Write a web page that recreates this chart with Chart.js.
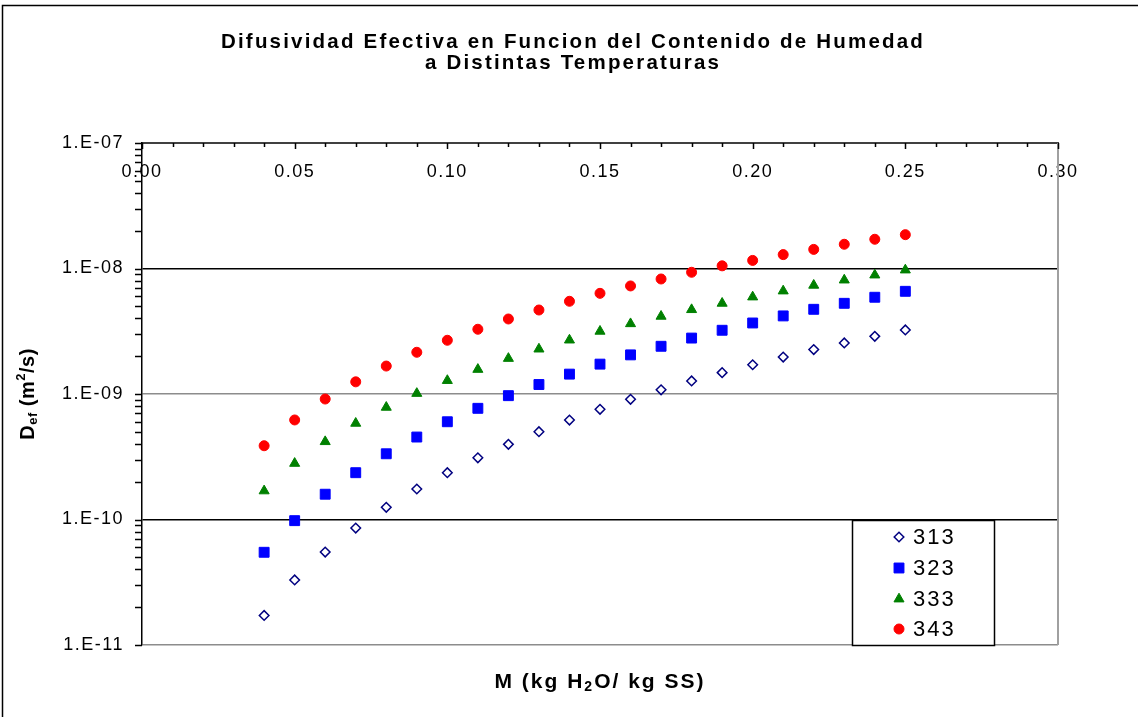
<!DOCTYPE html>
<html>
<head>
<meta charset="utf-8">
<script src="https://cdn.jsdelivr.net/npm/chart.js@4.4.0/dist/chart.umd.min.js"></script>
<style>
  body { margin: 0; background: #fff; }
  canvas { display: block; }
</style>
</head>
<body>
<canvas id="chart" width="1138" height="717"></canvas>
<script>
// Moisture content (kg H2O / kg SS)
const moisture = [0.04, 0.05, 0.06, 0.07, 0.08, 0.09, 0.10, 0.11, 0.12, 0.13, 0.14,
                  0.15, 0.16, 0.17, 0.18, 0.19, 0.20, 0.21, 0.22, 0.23, 0.24, 0.25];

// Effective diffusivity (m2/s) per temperature (K)
const d313 = [1.72e-11, 3.30e-11, 5.5e-11, 8.55e-11, 1.25e-10, 1.75e-10, 2.36e-10, 3.10e-10,
              3.97e-10, 5.01e-10, 6.2e-10, 7.55e-10, 9.07e-10, 1.08e-9, 1.27e-9, 1.48e-9,
              1.71e-9, 1.97e-9, 2.26e-9, 2.55e-9, 2.88e-9, 3.24e-9];
const d323 = [5.48e-11, 9.79e-11, 1.59e-10, 2.36e-10, 3.34e-10, 4.54e-10, 6.01e-10, 7.69e-10,
              9.70e-10, 1.19e-9, 1.44e-9, 1.73e-9, 2.05e-9, 2.40e-9, 2.79e-9, 3.22e-9,
              3.68e-9, 4.19e-9, 4.73e-9, 5.28e-9, 5.90e-9, 6.58e-9];
const d333 = [1.69e-10, 2.80e-10, 4.17e-10, 5.84e-10, 7.83e-10, 1.01e-9, 1.28e-9, 1.57e-9,
              1.92e-9, 2.28e-9, 2.69e-9, 3.16e-9, 3.63e-9, 4.16e-9, 4.70e-9, 5.28e-9,
              5.93e-9, 6.62e-9, 7.35e-9, 8.09e-9, 8.87e-9, 9.73e-9];
const d343 = [3.87e-10, 6.21e-10, 9.12e-10, 1.25e-9, 1.67e-9, 2.15e-9, 2.68e-9, 3.28e-9,
              3.96e-9, 4.67e-9, 5.48e-9, 6.34e-9, 7.26e-9, 8.25e-9, 9.33e-9, 1.05e-8,
              1.16e-8, 1.29e-8, 1.42e-8, 1.56e-8, 1.71e-8, 1.86e-8];

const seriesNames = ['313', '323', '333', '343'];
const yTicks = [1e-11, 1e-10, 1e-9, 1e-8, 1e-7];
const yTickLabels = ['1.E-11', '1.E-10', '1.E-09', '1.E-08', '1.E-07'];

const titleLines = ['Difusividad Efectiva en Funcion del Contenido de Humedad', 'a Distintas Temperaturas'];
const FONT = 'Arial, "Liberation Sans", sans-serif';

function pts(vals) {
  return moisture.map((m, i) => ({ x: m, y: vals[i] }));
}

// draws text made of pieces with sub/superscripts, centered on (cx, cy)
function drawRich(ctx, parts, cx, cy, rotate, spacing) {
  ctx.save();
  ctx.letterSpacing = spacing;
  ctx.translate(cx, cy);
  if (rotate) ctx.rotate(-Math.PI / 2);
  let total = 0;
  parts.forEach(p => {
    ctx.font = 'bold ' + p.size + 'px ' + FONT;
    p.w = ctx.measureText(p.t).width;
    total += p.w;
  });
  let x = -total / 2;
  ctx.fillStyle = '#000';
  ctx.textBaseline = 'middle';
  ctx.textAlign = 'left';
  parts.forEach(p => {
    ctx.font = 'bold ' + p.size + 'px ' + FONT;
    ctx.fillText(p.t, x, p.dy || 0);
    x += p.w;
  });
  ctx.restore();
}

const decor = {
  id: 'decor',
  beforeDraw(chart) {
    const ctx = chart.ctx;
    ctx.letterSpacing = '1.5px';
    // outer frame
    ctx.save();
    ctx.strokeStyle = '#000';
    ctx.lineWidth = 1.5;
    ctx.strokeRect(2.5, 5.5, 1300, 900);
    ctx.restore();
  },
  afterDraw(chart) {
    const ctx = chart.ctx;
    const area = chart.chartArea;
    const xs = chart.scales.x;
    const ys = chart.scales.y;

    ctx.save();
    // right border of plot
    ctx.strokeStyle = '#a0a0a0';
    ctx.lineWidth = 2;
    ctx.beginPath();
    ctx.moveTo(area.right, area.top);
    ctx.lineTo(area.right, area.bottom);
    ctx.stroke();

    // x tick marks (inside, from top axis)
    ctx.strokeStyle = '#000';
    ctx.lineWidth = 1.5;
    ctx.beginPath();
    for (let k = 0; k <= 30; k++) {
      const px = Math.round(xs.getPixelForValue(k / 100)) + 0.5;
      const len = k % 5 === 0 ? 6 : 4;
      ctx.moveTo(px, area.top);
      ctx.lineTo(px, area.top + len);
    }
    // y log tick marks (outside, left)
    for (let n = -11; n <= -8; n++) {
      for (let m = 1; m <= 9; m++) {
        const py = Math.round(ys.getPixelForValue(m * Math.pow(10, n))) + 0.5;
        ctx.moveTo(area.left - 7, py);
        ctx.lineTo(area.left, py);
      }
    }
    const top = Math.round(ys.getPixelForValue(1e-7)) + 0.5;
    ctx.moveTo(area.left - 7, top);
    ctx.lineTo(area.left, top);
    ctx.stroke();

    // chart title
    ctx.letterSpacing = '2.2px';
    ctx.font = 'bold 20.5px ' + FONT;
    ctx.fillStyle = '#000';
    ctx.textAlign = 'center';
    ctx.textBaseline = 'middle';
    ctx.fillText(titleLines[0], 573, 42);
    ctx.fillText(titleLines[1], 573, 63);
    ctx.restore();

    // axis titles
    drawRich(ctx, [
      { t: 'M (kg H', size: 21 },
      { t: '2', size: 14, dy: 5 },
      { t: 'O/ kg SS)', size: 21 }
    ], (area.left + area.right) / 2, 682, false, '2px');
    drawRich(ctx, [
      { t: 'D', size: 20 },
      { t: 'ef', size: 13, dy: 5 },
      { t: ' (m', size: 20 },
      { t: '2', size: 13, dy: -7 },
      { t: '/s)', size: 20 }
    ], 28, (area.top + area.bottom) / 2, true, '0.5px');

    // legend box
    ctx.save();
    ctx.fillStyle = '#fff';
    ctx.fillRect(852, 520, 142, 125);
    ctx.strokeStyle = '#000';
    ctx.lineWidth = 1.5;
    ctx.strokeRect(852.5, 520.5, 142, 125);
    const rows = [537, 568, 599, 629];
    chart.data.datasets.forEach((ds, i) => {
      ctx.fillStyle = ds.backgroundColor;
      ctx.strokeStyle = ds.borderColor;
      ctx.lineWidth = ds.borderWidth;
      if (Chart.helpers && Chart.helpers.drawPoint) {
        Chart.helpers.drawPoint(ctx, {
          pointStyle: ds.pointStyle, radius: ds.pointRadius,
          rotation: 0, borderWidth: ds.borderWidth
        }, 899, rows[i]);
      }
      ctx.fillStyle = '#000';
      ctx.letterSpacing = '2px';
      ctx.font = '22px ' + FONT;
      ctx.textAlign = 'left';
      ctx.textBaseline = 'middle';
      ctx.fillText(ds.label, 913, rows[i] + 1);
    });
    ctx.restore();
  }
};

new Chart(document.getElementById('chart'), {
  type: 'scatter',
  data: {
    datasets: [
      { label: seriesNames[0], data: pts(d313), pointStyle: 'rectRot', pointRadius: 4.8,
        backgroundColor: '#ffffff', borderColor: '#000080', borderWidth: 1.5 },
      { label: seriesNames[1], data: pts(d323), pointStyle: 'rect', pointRadius: 7,
        backgroundColor: '#0000ff', borderColor: '#0000ff', borderWidth: 1 },
      { label: seriesNames[2], data: pts(d333), pointStyle: 'triangle', pointRadius: 5.8,
        backgroundColor: '#008000', borderColor: '#008000', borderWidth: 1 },
      { label: seriesNames[3], data: pts(d343), pointStyle: 'circle', pointRadius: 5,
        backgroundColor: '#ff0000', borderColor: '#ff0000', borderWidth: 1 }
    ]
  },
  options: {
    responsive: false,
    animation: false,
    events: [],
    layout: { padding: { top: 73, right: 80, bottom: 72, left: 0 } },
    plugins: {
      legend: { display: false },
      title: { display: false },
      tooltip: { enabled: false }
    },
    scales: {
      x: {
        type: 'linear',
        position: 'top',
        min: 0,
        max: 0.3,
        afterFit: s => { s.height = 70; },
        ticks: {
          stepSize: 0.05,
          mirror: true,
          padding: 18,
          autoSkip: false,
          maxRotation: 0,
          color: '#000',
          font: { family: FONT, size: 18 },
          callback: v => v.toFixed(2)
        },
        grid: { display: false, drawTicks: false },
        border: { color: '#404040', width: 2 }
      },
      y: {
        type: 'logarithmic',
        min: 1e-11,
        max: 1e-7,
        afterFit: s => { s.width = 142; },
        afterBuildTicks: s => { s.ticks = yTicks.map(v => ({ value: v })); },
        ticks: {
          padding: 18,
          color: '#000',
          font: { family: FONT, size: 18 },
          callback: (v, i) => yTickLabels[i]
        },
        grid: {
          drawTicks: false,
          lineWidth: 1.5,
          color: c => (c.index % 2 === 1 ? '#000000' : '#8c8c8c')
        },
        border: { color: '#000', width: 1.5 }
      }
    }
  },
  plugins: [decor]
});
</script>
</body>
</html>
